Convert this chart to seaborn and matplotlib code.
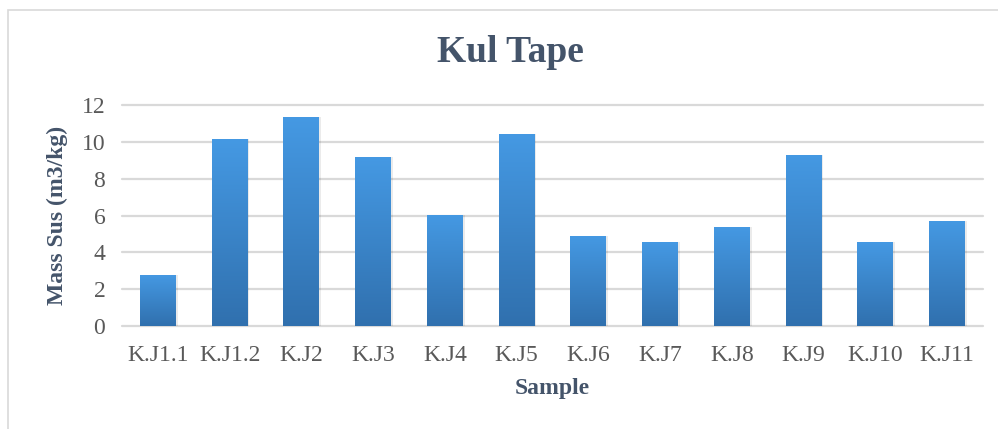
#!/usr/bin/env python3
"""Bar chart of mass susceptibility per sample (Kul Tape)."""
import numpy as np
import pandas as pd
import matplotlib
matplotlib.use("Agg")
import matplotlib.pyplot as plt
from matplotlib.colors import LinearSegmentedColormap
from matplotlib.patches import Rectangle
import seaborn as sns

samples = ["K.J1.1", "K.J1.2", "K.J2", "K.J3", "K.J4", "K.J5",
           "K.J6", "K.J7", "K.J8", "K.J9", "K.J10", "K.J11"]
mass_sus = [2.78, 10.13, 11.33, 9.15, 6.05, 10.4,
            4.89, 4.56, 5.38, 9.30, 4.56, 5.71]
y_ticks = [0, 2, 4, 6, 8, 10, 12]

TEXT = "#44546A"
TICK = "#595959"
GRID = "#D9D9D9"

sns.set_theme(style="white")
plt.rcParams["font.family"] = ["Liberation Serif", "DejaVu Serif"]

df = pd.DataFrame({"Sample": samples, "Mass": mass_sus})

fig = plt.figure(figsize=(9.98, 4.29), dpi=100)
W, H = 998, 429
ax = fig.add_axes([122 / W, 1 - 326 / H, (983 - 122) / W, (326 - 105) / H])

sns.barplot(data=df, x="Sample", y="Mass", color="#3F8AD6", width=0.5,
            ax=ax, zorder=3)

# vertical gradient fill clipped to each bar
cmap = LinearSegmentedColormap.from_list("g", ["#3070AE", "#4599E3"])
grad = np.linspace(0, 1, 256).reshape(-1, 1)
for p in ax.patches:
    x0, y0 = p.get_x(), p.get_y()
    w, h = p.get_width(), p.get_height()
    # soft shadow
    ax.add_patch(Rectangle((x0 + 0.015, y0), w + 0.01, h, color="#000000",
                           alpha=0.08, zorder=2, lw=0))
    im = ax.imshow(grad, cmap=cmap, origin="lower", aspect="auto",
                   extent=[x0, x0 + w, y0, y0 + h], zorder=4)
    im.set_clip_path(p)
    p.set_edgecolor("none")

ax.set_xlim(-0.5, len(samples) - 0.5)
ax.set_ylim(0, 12)
ax.set_yticks(y_ticks)
ax.yaxis.grid(True, color=GRID, linewidth=1.6, zorder=0)
ax.set_axisbelow(True)
for g in ax.get_ygridlines():
    g.set_clip_on(False)
for s in ax.spines.values():
    s.set_visible(False)

ax.tick_params(axis="both", length=0, labelsize=17, labelcolor=TICK)
ax.tick_params(axis="x", pad=14)
ax.tick_params(axis="y", pad=12)
ax.set_xlabel("Sample", fontsize=17, fontweight="bold", color=TEXT, labelpad=8)
ax.set_ylabel("Mass Sus (m3/kg)", fontsize=17, fontweight="bold", color=TEXT,
              labelpad=10)

fig.text(510 / W, 1 - 52 / H, "Kul Tape", ha="center", va="center",
         fontsize=27, fontweight="bold", color=TEXT)

# chart frame
fig.patches.append(Rectangle((8 / W, -0.05), 1.05, 1 - 10 / H + 0.05,
                             transform=fig.transFigure, fill=False,
                             edgecolor=GRID, linewidth=1.2))

fig.savefig("out.png", dpi=100)
